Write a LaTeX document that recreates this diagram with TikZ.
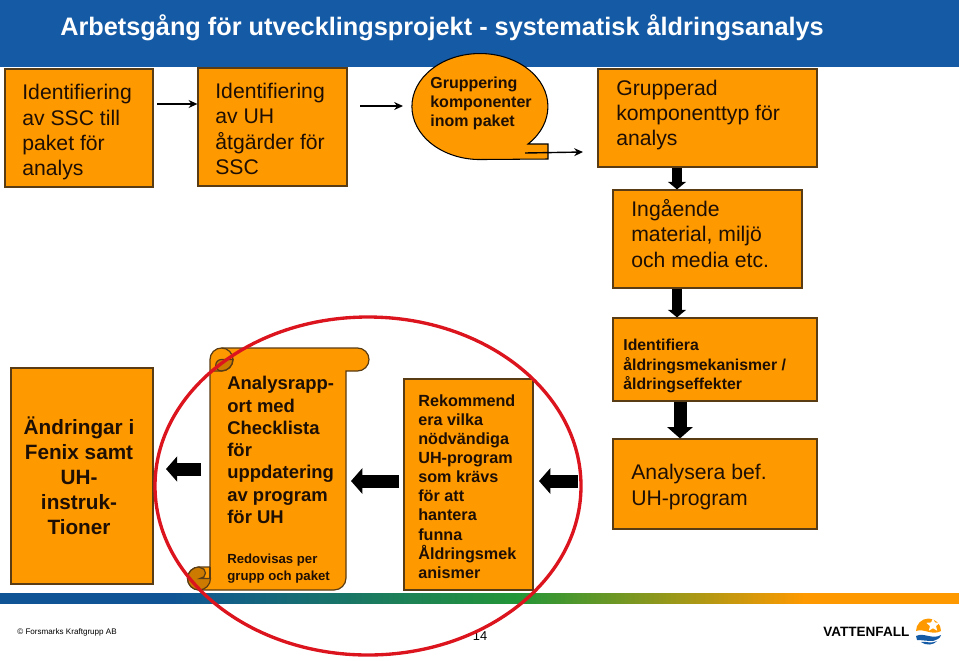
\documentclass[tikz,border=0pt]{standalone}
\usepackage{fontspec}
\setmainfont{Liberation Sans}
\usetikzlibrary{arrows.meta, calc, positioning, shapes.geometric}
\definecolor{boxOrange}{RGB}{255,153,0}
\definecolor{boxEdge}{RGB}{90,60,20}
\definecolor{rollDark}{RGB}{204,122,0}
\definecolor{headBlue}{RGB}{20,90,165}
\definecolor{barBlue}{RGB}{15,85,150}
\definecolor{barGreen}{RGB}{35,150,55}
\definecolor{ringRed}{RGB}{220,20,30}
\definecolor{inkBrown}{RGB}{30,15,5}
\pgfdeclarehorizontalshading{barfade}{100bp}{color(0bp)=(barBlue); color(34bp)=(barBlue); color(52bp)=(barGreen); color(67bp)=(boxOrange); color(100bp)=(boxOrange)}
\tikzset{
    flowbox/.style={draw=boxEdge, line width=0.7pt, fill=boxOrange, inner sep=0pt},
    plaintext/.style={anchor=north west, inner sep=0pt, align=left, text=inkBrown},
    bigtext/.style={plaintext, font=\fontsize{12.05}{14.4}\selectfont},
    boldtext/.style={plaintext, font=\fontsize{9.2}{10.9}\selectfont\bfseries},
    scrolledge/.style={draw=boxEdge, line width=0.7pt},
    bigarrow/.style={line width=7.4pt, -{Triangle[length=6.4pt, width=14.2pt]}, black},
    smallarrow/.style={line width=5.7pt, -{Triangle[length=4.3pt, width=10.2pt]}, black},
    thinarrow/.style={line width=0.8pt, -{Stealth[length=5pt, width=4.5pt]}, black},
}
\begin{document}
\begin{tikzpicture}[x=0.02cm, y=-0.02cm]
    \useasboundingbox (0,0) rectangle (959,660);

    % sidhuvud
    \fill[headBlue] (0,0) rectangle (959,67);
    \node[anchor=west, text=white, font=\fontsize{14.4}{16}\selectfont\bfseries, inner sep=0pt] (title) at (60,27.5) {Arbetsgång för utvecklingsprojekt - systematisk åldringsanalys};

    % rutor
    \node[flowbox, minimum width=148*0.02cm, minimum height=118*0.02cm] (ssc) at (79,128) {};
    \node[bigtext] (ssctext) at (22,84) {Identifiering\\av SSC till\\paket för\\analys};
    \node[flowbox, minimum width=149*0.02cm, minimum height=118*0.02cm] (uh) at (272.5,127) {};
    \node[bigtext] (uhtext) at (215,83) {Identifiering\\av UH\\åtgärder för\\SSC};

    % pratbubbla
    \path[draw=black, line width=0.6pt, fill=boxOrange] (528,144) arc[start angle=45, end angle=-270, x radius=68, y radius=53] -- (548,159) -- (548,144) -- cycle;
    \node[boldtext, font=\fontsize{9.1}{10.8}\selectfont\bfseries] (grupp) at (430,77) {Gruppering\\komponenter\\inom paket};

    \node[flowbox, minimum width=219*0.02cm, minimum height=98*0.02cm] (typ) at (707.5,118) {};
    \node[bigtext] (typtext) at (616,79.5) {Grupperad\\komponenttyp för\\analys};
    \node[flowbox, minimum width=189*0.02cm, minimum height=98*0.02cm] (mat) at (707.5,239) {};
    \node[bigtext] (mattext) at (631,199) {Ingående\\material, miljö\\och media etc.};
    \node[flowbox, minimum width=204*0.02cm, minimum height=83*0.02cm] (mek) at (715,359.5) {};
    \node[boldtext, font=\fontsize{9}{11}\selectfont\bfseries] (mektext) at (623,339) {Identifiera\\åldringsmekanismer /\\åldringseffekter};
    \node[flowbox, minimum width=204*0.02cm, minimum height=90*0.02cm] (bef) at (715,484) {};
    \node[bigtext] (beftext) at (631,464) {Analysera bef.\\UH-program};
    \node[flowbox, minimum width=142*0.02cm, minimum height=216*0.02cm] (fenix) at (82,476) {};
    \node[plaintext, anchor=center, align=center, font=\fontsize{11.8}{14.2}\selectfont\bfseries] (fenixtext) at (79,476) {Ändringar i\\Fenix samt\\UH-\\instruk-\\Tioner};
    \node[flowbox, minimum width=129*0.02cm, minimum height=211*0.02cm] (rek) at (468.5,484.5) {};
    \node[boldtext] (rektext) at (418,394) {Rekommend\\era vilka\\nödvändiga\\UH-program\\som krävs\\för att\\hantera\\funna\\Åldringsmek\\anismer};

    % skriftrulle
    \path[scrolledge, fill=boxOrange] (210,359.5) arc[start angle=180, end angle=270, radius=11.5] -- (357.5,348) arc[start angle=270, end angle=450, radius=11.5] -- (346,371) -- (346,578) arc[start angle=0, end angle=90, radius=12] -- (199,590) arc[start angle=90, end angle=270, radius=11.5] -- (210,567) -- cycle;
    \path[scrolledge, fill=rollDark] (233,359.5) arc[start angle=0, end angle=90, radius=11.5] arc[start angle=90, end angle=270, radius=5.75] -- cycle;
    \draw[scrolledge] (221.5,348) arc[start angle=270, end angle=450, radius=11.5] -- (210,371);
    \path[scrolledge, fill=rollDark] (199,567) arc[start angle=270, end angle=90, radius=11.5] arc[start angle=90, end angle=0, radius=11.5] -- (200,578.5) arc[start angle=90, end angle=-90, radius=5.5] -- cycle;
    \draw[scrolledge] (210,567) -- (210,578.5);
    \node[plaintext, font=\fontsize{10.5}{12.7}\selectfont\bfseries] (rapport) at (227,376) {Analysrapp-\\ort med\\Checklista\\för\\uppdatering\\av program\\för UH};
    \node[plaintext, font=\fontsize{7.5}{9.6}\selectfont\bfseries] (redo) at (227,554) {Redovisas per\\grupp och paket};

    % smala pilar
    \coordinate (a1) at (157,104);
    \coordinate (a2) at (360,106);
    \coordinate (a2end) at (403,106);
    \coordinate (a3) at (525,153);
    \coordinate (a3end) at (583,152);
    \draw[thinarrow] (a1) -- (a1 -| uh.west);
    \draw[thinarrow] (a2) -- (a2end);
    \draw[thinarrow] (a3) -- (a3end);

    % breda pilar
    \coordinate (vx1) at (677,0);
    \coordinate (vx2) at (680,0);
    \draw[smallarrow] (typ.south -| vx1) -- (mat.north -| vx1);
    \draw[smallarrow] (mat.south -| vx1) -- (mek.north -| vx1);
    \draw[bigarrow] (mek.south -| vx2) -- (bef.north -| vx2);
    \coordinate (h1) at (578,481);
    \coordinate (h1end) at (539,481);
    \coordinate (h2) at (399,481);
    \coordinate (h2end) at (351,481);
    \coordinate (h3) at (201,469);
    \coordinate (h3end) at (166,469);
    \draw[bigarrow] (h1) -- (h1end);
    \draw[bigarrow] (h2) -- (h2end);
    \draw[bigarrow] (h3) -- (h3end);

    % sidfot
    \shade[shading=barfade] (0,593) rectangle (959,603);
    \node[anchor=west, inner sep=0pt, font=\fontsize{4.6}{6}\selectfont] (forsmark) at (17,632) {© Forsmarks Kraftgrupp AB};
    \node[inner sep=0pt, font=\fontsize{7.3}{9}\selectfont] (sida) at (480,636) {14};
    \node[anchor=west, inner sep=0pt, font=\fontsize{7.7}{9}\selectfont\bfseries] (vf) at (823,632) {VATTENFALL};
    \fill[boxOrange] (916,631) arc[start angle=180, end angle=360, radius=12.5] .. controls (932,636) and (924,628) .. (916,631) -- cycle;
    \node[star, star points=5, star point ratio=2.2, fill=white, inner sep=0pt, minimum size=8pt] (sol) at (933,625) {};
    \fill[headBlue] (916,636) .. controls (924,632) and (932,640) .. (941,635) .. controls (940,639) and (936,640) .. (933,641) .. controls (927,641) and (921,640) .. (917,640) -- cycle;
    \fill[headBlue] (921,642) .. controls (926,641) and (930,644) .. (937,641) .. controls (934,645) and (926,646) .. (921,642) -- cycle;

    % röd ring
    \draw[ringRed, line width=1.9pt] (368,486) ellipse [x radius=213, y radius=169];
\end{tikzpicture}
\end{document}
